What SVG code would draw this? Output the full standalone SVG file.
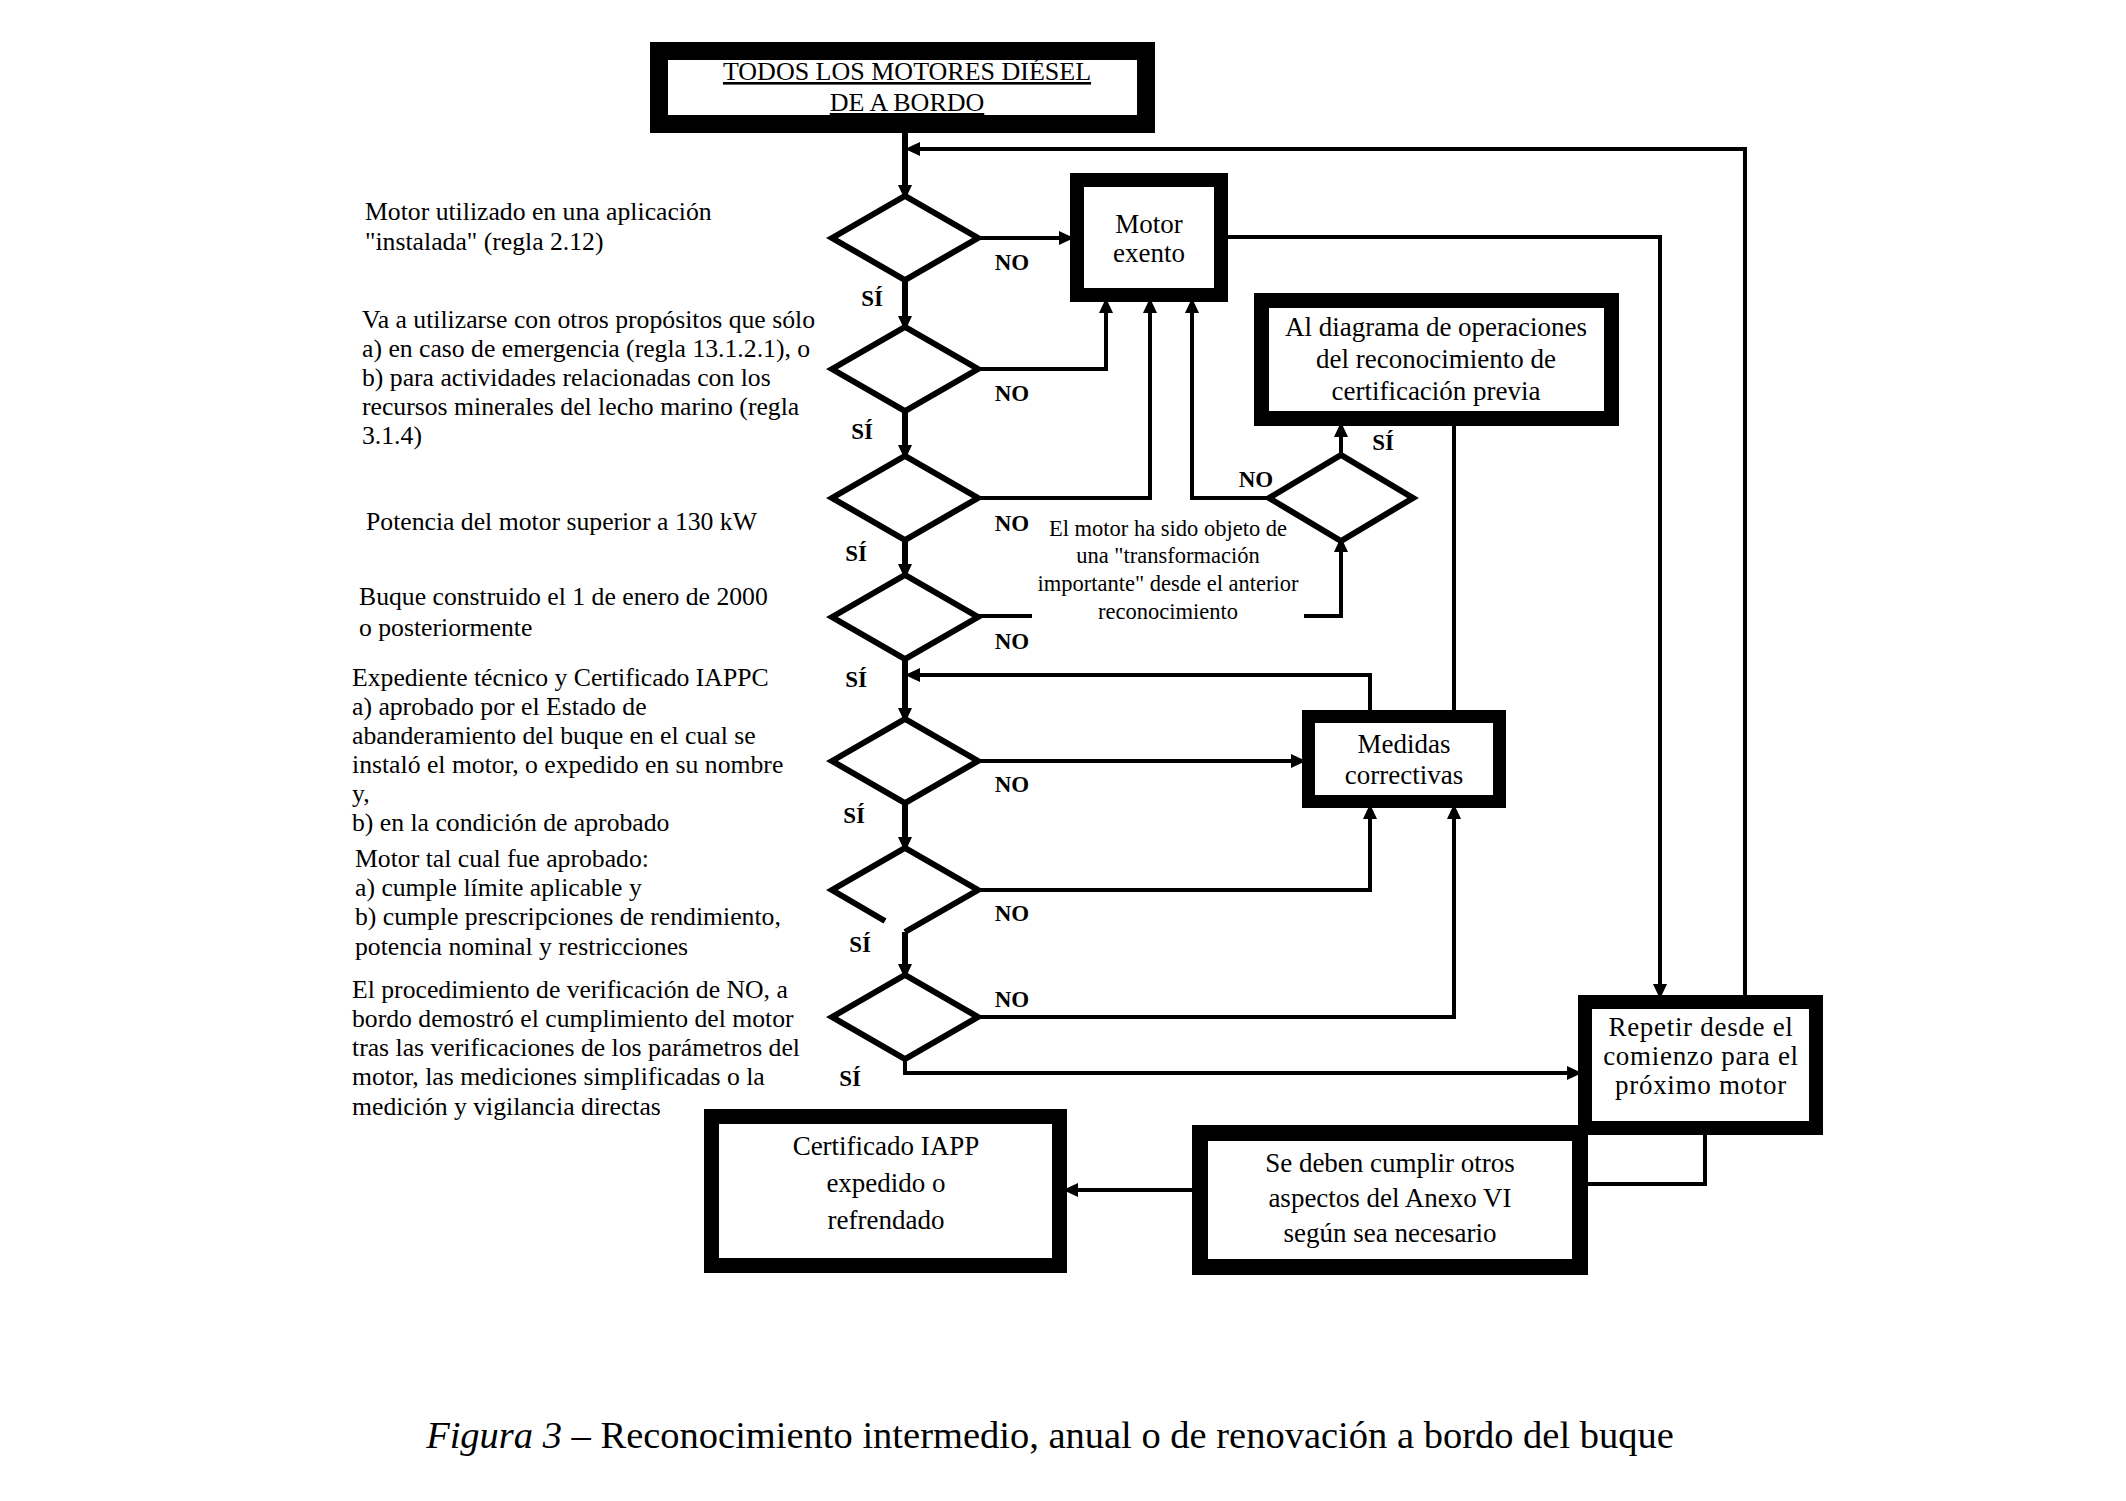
<svg xmlns="http://www.w3.org/2000/svg" width="2126" height="1501" viewBox="0 0 2126 1501">
<style>
text{font-family:"Liberation Serif","Times New Roman",serif;fill:#000}
.lt{font-size:25.7px}
.bx{font-size:27px;text-anchor:middle}
.yn{font-size:23px;font-weight:bold;text-anchor:middle}
.tr{font-size:22.5px;text-anchor:middle}
.box{fill:#fff;stroke:#000}
.dia{fill:#fff;stroke:#000;stroke-width:6;stroke-linejoin:miter}
.c{fill:none;stroke:#000;stroke-width:4}
.m{fill:none;stroke:#000;stroke-width:6}
</style>
<defs>
<marker id="ah" markerUnits="userSpaceOnUse" markerWidth="16" markerHeight="14" refX="11" refY="7" orient="auto" viewBox="0 0 16 14">
<path d="M0,0 L15,7 L0,14 z" fill="#000"/>
</marker>
</defs>
<rect x="0" y="0" width="2126" height="1501" fill="#fff"/>

<g id="connectors">
<path class="m" d="M905,133 V196" marker-end="url(#ah)"/>
<path class="m" d="M905,280 V327" marker-end="url(#ah)"/>
<path class="m" d="M905,411 V456" marker-end="url(#ah)"/>
<path class="m" d="M905,540 V575" marker-end="url(#ah)"/>
<path class="m" d="M905,659 V719" marker-end="url(#ah)"/>
<path class="m" d="M905,803 V848" marker-end="url(#ah)"/>
<path class="m" d="M905,932 V975" marker-end="url(#ah)"/>
<path class="c" d="M905,1059 V1073 H1578" marker-end="url(#ah)"/>
<path class="c" d="M978,238 H1070" marker-end="url(#ah)"/>
<path class="c" d="M978,369 H1106 V302" marker-end="url(#ah)"/>
<path class="c" d="M978,498 H1150 V302" marker-end="url(#ah)"/>
<path class="c" d="M1269,498 H1192 V302" marker-end="url(#ah)"/>
<path class="c" d="M1341,455 V426" marker-end="url(#ah)"/>
<path class="c" d="M978,616 H1032"/>
<path class="c" d="M1304,616 H1341 V541" marker-end="url(#ah)"/>
<path class="c" d="M978,761 H1302" marker-end="url(#ah)"/>
<path class="c" d="M1370,710 V675 H909" marker-end="url(#ah)"/>
<path class="c" d="M1454,426 V710"/>
<path class="c" d="M978,890 H1370 V808" marker-end="url(#ah)"/>
<path class="c" d="M978,1017 H1454 V808" marker-end="url(#ah)"/>
<path class="c" d="M1228,237 H1660 V995" marker-end="url(#ah)"/>
<path class="c" d="M1745,995 V149 H909" marker-end="url(#ah)"/>
<path class="c" d="M1705,1135 V1184 H1588"/>
<path class="c" d="M1192,1190 H1067" marker-end="url(#ah)"/>
</g>

<g id="n-start">
<rect class="box" x="659" y="51" width="487" height="73" stroke-width="18"/>
<text x="907" y="80" font-size="26" text-anchor="middle" text-decoration="underline">TODOS LOS MOTORES DIÉSEL</text>
<text x="907" y="111" font-size="26" text-anchor="middle" text-decoration="underline">DE A BORDO</text>
</g>

<g id="n-exento">
<rect class="box" x="1077" y="180" width="144" height="115" stroke-width="14"/>
<text class="bx" x="1149" y="233">Motor</text>
<text class="bx" x="1149" y="262">exento</text>
</g>

<g id="n-previa">
<rect class="box" x="1261.5" y="300.5" width="350" height="118" stroke-width="15"/>
<text class="bx" x="1436" y="336" font-size="30">Al diagrama de operaciones</text>
<text class="bx" x="1436" y="368" font-size="30">del reconocimiento de</text>
<text class="bx" x="1436" y="400" font-size="30">certificación previa</text>
</g>

<g id="n-medidas">
<rect class="box" x="1308.5" y="716.5" width="191" height="85" stroke-width="13"/>
<text class="bx" x="1404" y="753">Medidas</text>
<text class="bx" x="1404" y="784">correctivas</text>
</g>

<g id="n-repetir">
<rect class="box" x="1585" y="1002" width="231" height="126" stroke-width="14"/>
<text class="bx" x="1701" y="1036" letter-spacing="0.7">Repetir desde el</text>
<text class="bx" x="1701" y="1065" letter-spacing="0.7">comienzo para el</text>
<text class="bx" x="1701" y="1094" letter-spacing="0.7">próximo motor</text>
</g>

<g id="n-anexo">
<rect class="box" x="1200" y="1133" width="380" height="134" stroke-width="16"/>
<text class="bx" x="1390" y="1172" font-size="29">Se deben cumplir otros</text>
<text class="bx" x="1390" y="1207" font-size="29">aspectos del Anexo VI</text>
<text class="bx" x="1390" y="1242" font-size="29">según sea necesario</text>
</g>

<g id="n-certificado">
<rect class="box" x="711.5" y="1116.5" width="348" height="149" stroke-width="15"/>
<text class="bx" x="886" y="1155" font-size="36">Certificado IAPP</text>
<text class="bx" x="886" y="1192" font-size="36">expedido o</text>
<text class="bx" x="886" y="1229" font-size="36">refrendado</text>
</g>

<g id="d1">
<path class="dia" d="M832,238 L905,196 L978,238 L905,280 Z"/>
<text class="lt" x="365" y="220">Motor utilizado en una aplicación</text>
<text class="lt" x="365" y="250">"instalada" (regla 2.12)</text>
<text class="yn" x="1012" y="270">NO</text>
<text class="yn" x="872" y="306">SÍ</text>
</g>

<g id="d2">
<path class="dia" d="M832,369 L905,327 L978,369 L905,411 Z"/>
<text class="lt" x="362" y="328">Va a utilizarse con otros propósitos que sólo</text>
<text class="lt" x="362" y="357">a) en caso de emergencia (regla 13.1.2.1), o</text>
<text class="lt" x="362" y="386">b) para actividades relacionadas con los</text>
<text class="lt" x="362" y="415">recursos minerales del lecho marino (regla</text>
<text class="lt" x="362" y="444">3.1.4)</text>
<text class="yn" x="1012" y="401">NO</text>
<text class="yn" x="862" y="439">SÍ</text>
</g>

<g id="d3">
<path class="dia" d="M832,498 L905,456 L978,498 L905,540 Z"/>
<text class="lt" x="366" y="530">Potencia del motor superior a 130 kW</text>
<text class="yn" x="1012" y="531">NO</text>
<text class="yn" x="856" y="561">SÍ</text>
</g>

<g id="d-transformacion">
<path class="dia" d="M1269,498 L1341,455 L1413,498 L1341,541 Z"/>
<text class="tr" x="1168" y="536">El motor ha sido objeto de</text>
<text class="tr" x="1168" y="563">una "transformación</text>
<text class="tr" x="1168" y="591">importante" desde el anterior</text>
<text class="tr" x="1168" y="619">reconocimiento</text>
<text class="yn" x="1256" y="487">NO</text>
<text class="yn" x="1383" y="450">SÍ</text>
</g>

<g id="d4">
<path class="dia" d="M832,617 L905,575 L978,617 L905,659 Z"/>
<text class="lt" x="359" y="605">Buque construido el 1 de enero de 2000</text>
<text class="lt" x="359" y="636">o posteriormente</text>
<text class="yn" x="1012" y="649">NO</text>
<text class="yn" x="856" y="687">SÍ</text>
</g>

<g id="d5">
<path class="dia" d="M832,761 L905,719 L978,761 L905,803 Z"/>
<text class="lt" x="352" y="686">Expediente técnico y Certificado IAPPC</text>
<text class="lt" x="352" y="715">a) aprobado por el Estado de</text>
<text class="lt" x="352" y="744">abanderamiento del buque en el cual se</text>
<text class="lt" x="352" y="773">instaló el motor, o expedido en su nombre</text>
<text class="lt" x="352" y="802">y,</text>
<text class="lt" x="352" y="831">b) en la condición de aprobado</text>
<text class="yn" x="1012" y="792">NO</text>
<text class="yn" x="854" y="823">SÍ</text>
</g>

<g id="d6">
<path class="dia" d="M885,921 L832,890 L905,848 L978,890 L905,932" stroke-linecap="butt"/>
<text class="lt" x="355" y="867">Motor tal cual fue aprobado:</text>
<text class="lt" x="355" y="896">a) cumple límite aplicable y</text>
<text class="lt" x="355" y="925">b) cumple prescripciones de  rendimiento,</text>
<text class="lt" x="355" y="955">potencia nominal y restricciones</text>
<text class="yn" x="1012" y="921">NO</text>
<text class="yn" x="860" y="952">SÍ</text>
</g>

<g id="d7">
<path class="dia" d="M832,1017 L905,975 L978,1017 L905,1059 Z"/>
<text class="lt" x="352" y="998">El procedimiento de verificación de NO, a</text>
<text class="lt" x="352" y="1027">bordo demostró el cumplimiento del motor</text>
<text class="lt" x="352" y="1056">tras las verificaciones de los parámetros del</text>
<text class="lt" x="352" y="1085">motor, las  mediciones simplificadas o la</text>
<text class="lt" x="352" y="1115">medición y vigilancia directas</text>
<text class="yn" x="1012" y="1007">NO</text>
<text class="yn" x="850" y="1086">SÍ</text>
</g>

<g id="caption">
<text x="1050" y="1448" font-size="38.5" text-anchor="middle"><tspan font-style="italic">Figura 3</tspan> – Reconocimiento intermedio, anual o de renovación a bordo del buque</text>
</g>
</svg>
